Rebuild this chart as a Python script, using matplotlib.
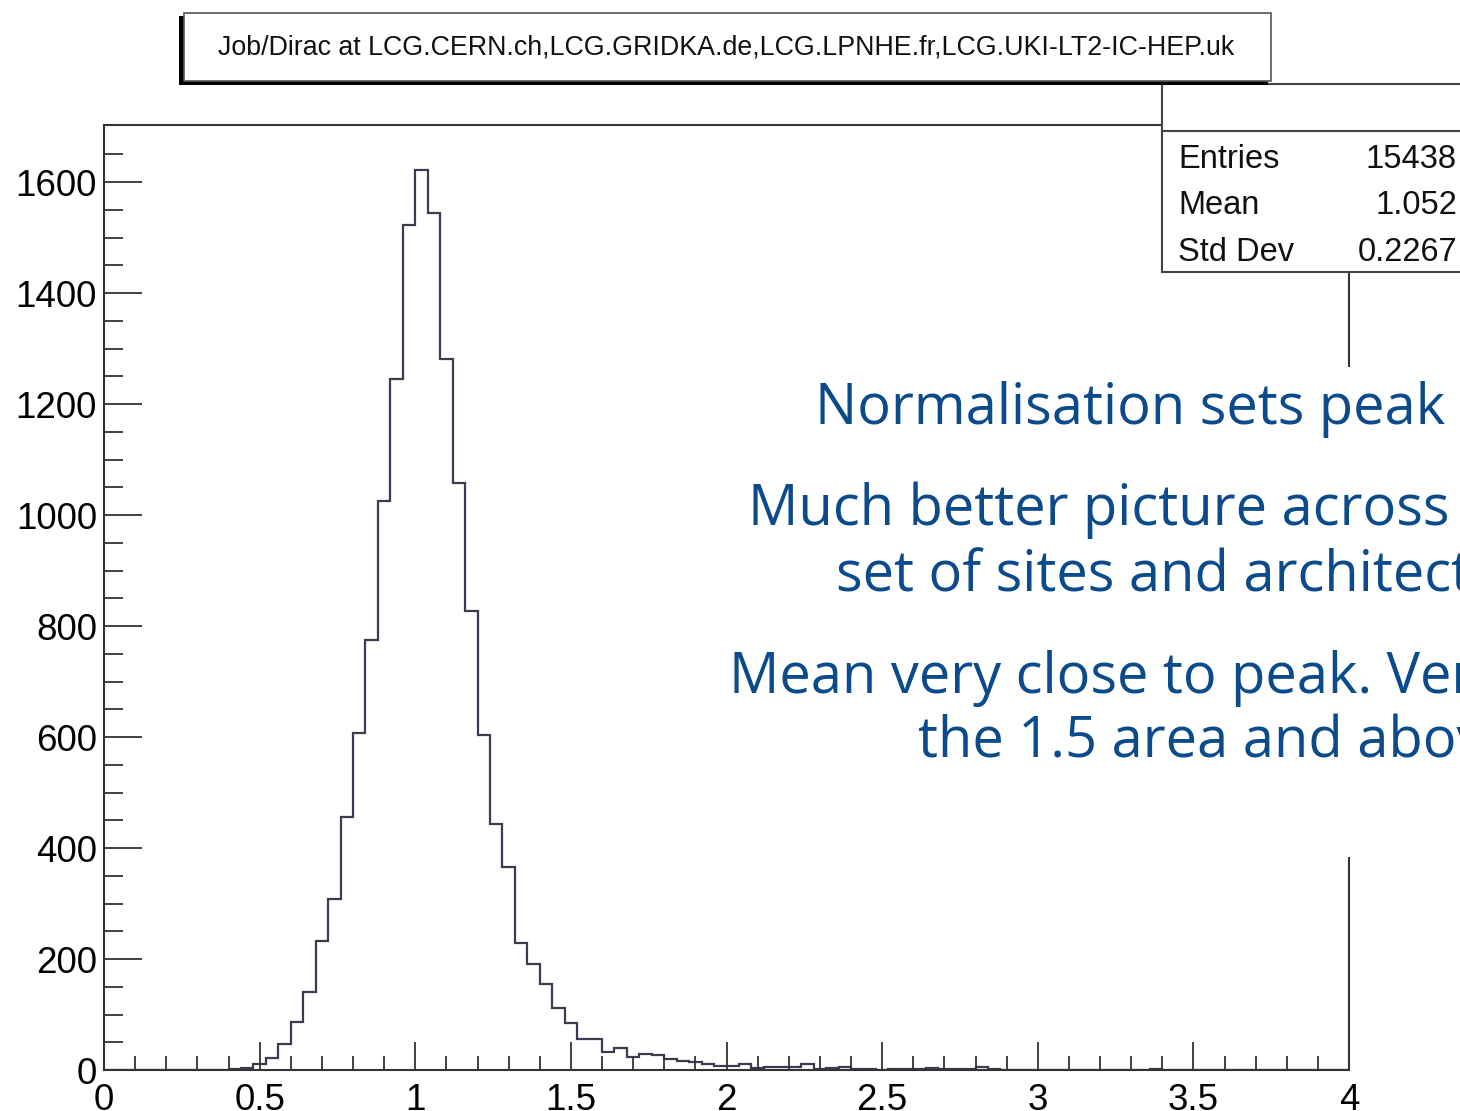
import numpy as np
import matplotlib
matplotlib.use("Agg")
import matplotlib.pyplot as plt
from matplotlib.patches import Rectangle
from matplotlib.lines import Line2D

# histogram contents, 100 bins of width 0.04 between 0 and 4
bin_edges = np.linspace(0, 4, 101)
counts = [0, 0, 0, 0, 0, 0, 0, 0, 0, 0,
          1, 4, 10, 22, 46, 87, 140, 232, 309, 456,
          607, 775, 1025, 1245, 1522, 1622, 1544, 1281, 1057, 827,
          604, 443, 365, 228, 191, 155, 112, 84, 55, 55,
          33, 39, 24, 29, 27, 20, 17, 14, 10, 8,
          8, 10, 4, 6, 6, 6, 10, 1, 3, 6,
          1, 1, 0, 2, 2, 2, 3, 1, 1, 1,
          5, 2, 0, 0, 0, 0, 0, 0, 0, 0,
          0, 0, 0, 0, 2, 0, 0, 0, 0, 0,
          0, 0, 0, 0, 0, 0, 0, 0, 0, 0]

title = "Job/Dirac at LCG.CERN.ch,LCG.GRIDKA.de,LCG.LPNHE.fr,LCG.UKI-LT2-IC-HEP.uk"
stats_labels = ["Entries", "Mean", "Std Dev"]
stats_values = ["15438", "1.052", "0.2267"]
x_ticks = [0, 0.5, 1, 1.5, 2, 2.5, 3, 3.5, 4]
x_tick_labels = ["0", "0.5", "1", "1.5", "2", "2.5", "3", "3.5", "4"]
y_ticks = [0, 200, 400, 600, 800, 1000, 1200, 1400, 1600]

notes = [
    ("Normalisation sets peak", 815, 424),
    ("Much better picture across", 748, 525),
    ("set of sites and architectures", 836, 591),
    ("Mean very close to peak. Very", 729, 693),
    ("the 1.5 area and above", 918, 757),
]

W, H = 1460, 1111
ROOT_FONT = "Liberation Sans"
NOTE_COLOR = "#0b4a8b"


def fx(x):
    return x / W


def fy(y):
    return 1 - y / H


fig = plt.figure(figsize=(W / 100, H / 100), dpi=100)
fig.patch.set_facecolor("white")

ax = fig.add_axes([fx(104), fy(1070), fx(1349) - fx(104), fy(125) - fy(1070)])
ax.stairs(counts, bin_edges, color="#3b3b52", linewidth=1.6)
ax.set_xlim(0, 4)
ax.set_ylim(0, 1703)

ax.set_xticks(x_ticks)
ax.set_xticklabels(x_tick_labels)
ax.set_xticks(np.arange(0, 4.001, 0.1), minor=True)
ax.set_yticks(y_ticks)
ax.set_yticks(np.arange(0, 1651, 50), minor=True)

ax.tick_params(axis="both", which="both", direction="in", color="#333333", width=1.3,
               top=False, right=False, labelsize=26.5)
ax.tick_params(axis="x", which="major", length=20, pad=9)
ax.tick_params(axis="x", which="minor", length=10)
ax.tick_params(axis="y", which="major", length=27, pad=5)
ax.tick_params(axis="y", which="minor", length=13.5)
for lab in ax.get_xticklabels() + ax.get_yticklabels():
    lab.set_fontfamily(ROOT_FONT)
for sp in ax.spines.values():
    sp.set_linewidth(1.5)
    sp.set_color("#333333")

# stats box (runs off the right edge)
fig.add_artist(Rectangle((fx(1162), fy(272)), fx(1480) - fx(1162), fy(84) - fy(272),
                         transform=fig.transFigure, facecolor="white",
                         edgecolor="#444444", linewidth=1.5, zorder=3))
fig.add_artist(Line2D([fx(1162), fx(1480)], [fy(131), fy(131)],
                      transform=fig.transFigure, color="#444444", linewidth=1.5, zorder=4))
for i, (lab, val) in enumerate(zip(stats_labels, stats_values)):
    yb = fy(168 + i * 46.5)
    fig.text(fx(1178), yb, lab, ha="left", va="baseline", fontsize=23.5,
             family=ROOT_FONT, color="#111111", zorder=5)
    fig.text(fx(1457), yb, val, ha="right", va="baseline", fontsize=23.5,
             family=ROOT_FONT, color="#111111", zorder=5)

# title box with shadow
fig.add_artist(Rectangle((fx(179), fy(85)), fx(1268) - fx(179), fy(16) - fy(85),
                         transform=fig.transFigure, facecolor="black",
                         edgecolor="none", zorder=6))
fig.add_artist(Rectangle((fx(184), fy(81)), fx(1271) - fx(184), fy(13) - fy(81),
                         transform=fig.transFigure, facecolor="white",
                         edgecolor="#555555", linewidth=1.2, zorder=7))
fig.text(fx(726), fy(48), title, ha="center", va="center", fontsize=19.3,
         family=ROOT_FONT, color="#111111", zorder=8)

# slide text overlay
fig.add_artist(Rectangle((fx(720), fy(857)), fx(1470) - fx(720), fy(367) - fy(857),
                         transform=fig.transFigure, facecolor="white",
                         edgecolor="none", zorder=9))
for txt, x, y in notes:
    fig.text(fx(x), fy(y), txt, ha="left", va="baseline", fontsize=40.3,
             family="Open Sans", color=NOTE_COLOR, zorder=10)

fig.savefig("out.png", dpi=100)
